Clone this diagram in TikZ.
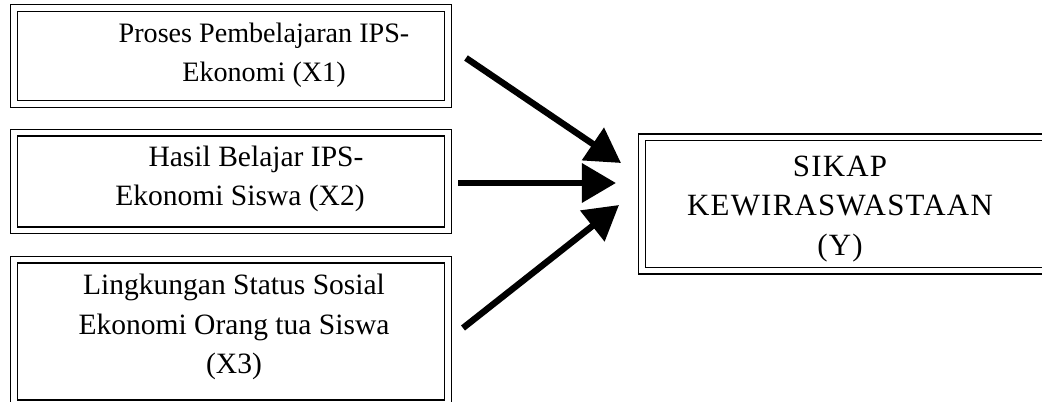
\documentclass[tikz,border=0pt]{standalone}
\usepackage{fontspec}
\setmainfont{Liberation Serif}
\usetikzlibrary{arrows.meta}

\tikzset{
  varbox/.style={draw=black, line width=0.035cm, double=white, double distance=0.13cm,
    inner sep=0pt},
  vartext/.style={align=center, font=\fontsize{21}{28}\selectfont},
  pengaruh/.style={line width=0.16cm, -{Triangle[length=0.85cm, width=0.95cm]}}
}

\begin{document}
\begin{tikzpicture}[x=0.025cm, y=-0.025cm]

\useasboundingbox (0,0) rectangle (1042,402);

\node[varbox, minimum width=10.85cm, minimum height=2.4cm] (x1) at (231,56) {};
\node[varbox, minimum width=10.85cm, minimum height=2.43cm] (x2) at (231,181.5) {};
\node[varbox, minimum width=10.85cm, minimum height=3.58cm] (x3) at (231,331.5) {};
\node[varbox, minimum width=10.1cm, minimum height=3.33cm] (y) at (844,204) {};

\node[vartext, font=\fontsize{20}{28}\selectfont] (tx1) at (264,55) {Proses Pembelajaran IPS-\\Ekonomi (X1)};
\node[vartext] (tx2) at (256,179) {Hasil Belajar IPS-\\\hspace*{-0.8cm}Ekonomi Siswa (X2)};
\node[vartext] (tx3) at (234,327) {Lingkungan Status Sosial\\Ekonomi Orang tua Siswa\\(X3)};
\node[vartext, font=\fontsize{22}{28}\selectfont\addfontfeatures{LetterSpace=4}] (ty) at (840,209) {SIKAP\\KEWIRASWASTAAN\\(Y)};

\coordinate (a1) at (466,58);
\coordinate (b1) at (621,163);
\coordinate (a2) at (458,183);
\coordinate (b2) at (616,183);
\coordinate (a3) at (463,328);
\coordinate (b3) at (619,205);

\draw[pengaruh] (a1) -- (b1);
\draw[pengaruh] (a2) -- (b2);
\draw[pengaruh] (a3) -- (b3);

\end{tikzpicture}
\end{document}
